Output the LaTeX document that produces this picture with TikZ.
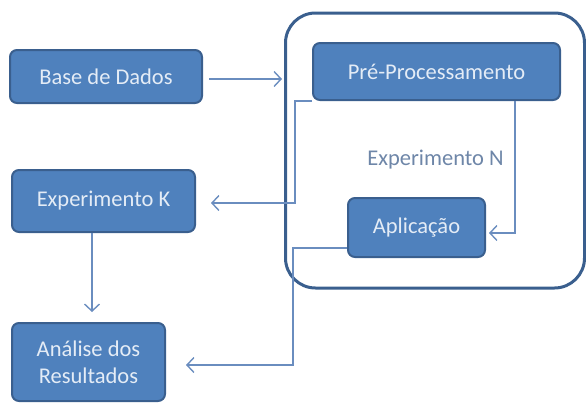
\documentclass[tikz,border=0pt]{standalone}
\usepackage{fontspec}
\setmainfont{Carlito}
\usetikzlibrary{arrows.meta}

\definecolor{boxfill}{HTML}{4F81BD}
\definecolor{boxline}{HTML}{3A5F8E}
\definecolor{boxtext}{HTML}{E4ECF6}
\definecolor{linkcol}{HTML}{6A8DBF}
\definecolor{labelcol}{HTML}{6E86A8}

\tikzset{
	etapa/.style={draw=boxline, line width=2pt, fill=boxfill, rounded corners=7pt,
		text=boxtext, font=\fontsize{22.5}{27}\selectfont, align=center, inner sep=0pt},
	grupo/.style={draw=boxline, line width=3pt, rounded corners=30pt, inner sep=0pt},
	liga/.style={draw=linkcol, line width=1.4pt, -{Straight Barb[length=7pt,width=15pt]}},
}

\begin{document}
\begin{tikzpicture}[x=1pt,y=-1pt]
		\useasboundingbox (0,0) rectangle (586,405);
		% caixa do experimento N
		\node[grupo, minimum width=299pt, minimum height=275pt] (expn) at (435,150.5) {};
		\node[text=labelcol, font=\fontsize{22.5}{27}\selectfont] (rotulo) at (435.5,160) {Experimento N};

		% etapas
		\node[etapa, minimum width=192pt, minimum height=53pt] (base) at (106,76.5) {Base de Dados};
		\node[etapa, minimum width=183pt, minimum height=62pt] (expk) at (103.5,201) {Experimento K};
		\node[etapa, minimum width=153pt, minimum height=78pt] (analise) at (88.5,362) {An\'alise dos\\Resultados};
		\node[etapa, minimum width=247pt, minimum height=57pt] (pre) at (436.5,71.5) {Pr\'e-Processamento};
		\node[etapa, minimum width=137pt, minimum height=59pt] (apl) at (416.5,227.5) {Aplica\c{c}\~ao};

		% ligacoes
		\coordinate (c1) at (295,203);
		\coordinate (c2) at (515,233);
		\coordinate (c3) at (293,365);
		\draw[liga, shorten <=6pt, shorten >=2pt] (base.east |- 0,79) -- (expn.west |- 0,79);
		\draw[liga, shorten >=15pt] (pre.south west) -- (pre.south west -| c1) -- (c1) -- (expk.east |- c1);
		\draw[liga, shorten >=3pt] (pre.south -| c2) -- (c2) -- (apl.east |- c2);
		\draw[liga, shorten >=20pt] (apl.west |- 0,248) -- (c3 |- 0,248) -- (c3) -- (analise.east |- c3);
		\draw[liga, shorten >=10pt] (expk.south -| 92,0) -- (analise.north -| 92,0);
	\end{tikzpicture}
\end{document}
